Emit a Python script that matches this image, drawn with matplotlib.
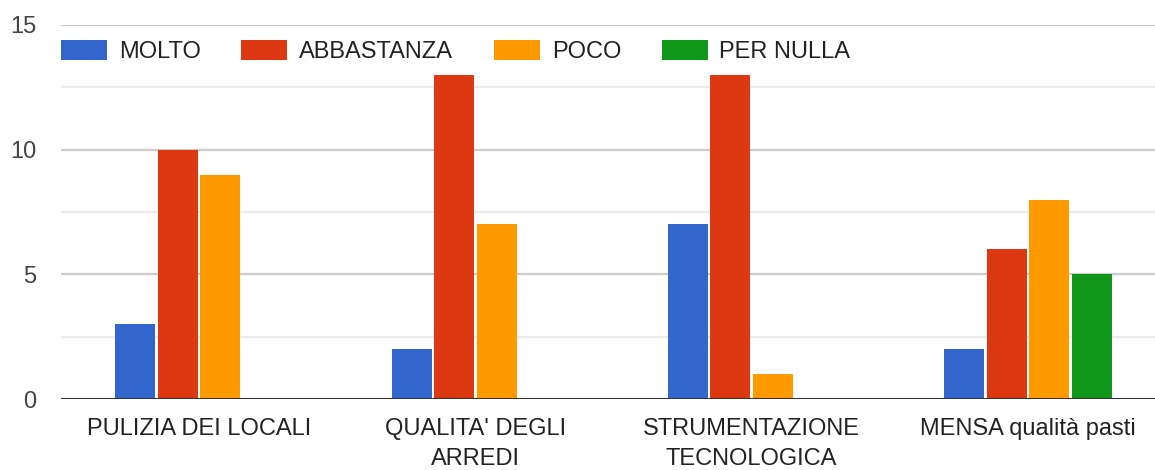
import matplotlib.pyplot as plt
import numpy as np

categorie = ["PULIZIA DEI LOCALI", "QUALITA' DEGLI\nARREDI", "STRUMENTAZIONE\nTECNOLOGICA", "MENSA qualità pasti"]
serie = ["MOLTO", "ABBASTANZA", "POCO", "PER NULLA"]
molto = [3, 2, 7, 2]
abbastanza = [10, 13, 13, 6]
poco = [9, 7, 1, 8]
per_nulla = [0, 0, 0, 5]
valori = [molto, abbastanza, poco, per_nulla]
colori = ['#3366cc', '#dc3912', '#ff9900', '#109618']

plt.rcParams['font.family'] = ['Liberation Sans', 'DejaVu Sans']

fig = plt.figure(figsize=(11.55, 4.70), dpi=100)
ax = fig.add_axes([61/1155, 71/470, 1 - 61/1155, 374/470])

x = np.arange(len(categorie))
passo = 0.154
larg = 0.145
for i, (nome, v, c) in enumerate(zip(serie, valori, colori)):
    ax.bar(x + (i - 1.5) * passo, v, larg, color=c, label=nome, zorder=3)

ax.set_ylim(0, 15)
ax.set_xlim(-0.5, 3.46)
ax.set_yticks([0, 5, 10, 15])
ax.set_yticks([2.5, 7.5, 12.5], minor=True)
ax.grid(axis='y', which='major', color='#cccccc', linewidth=1.6, zorder=0)
ax.grid(axis='y', which='minor', color='#ebebeb', linewidth=1.6, zorder=0)
ax.axhline(0, color='#333333', linewidth=2.2, zorder=4)
for s in ax.spines.values():
    s.set_visible(False)
ax.tick_params(axis='y', which='both', length=0, pad=18, labelsize=17, labelcolor='#444444')
ax.tick_params(axis='x', length=0, pad=14, labelsize=17, labelcolor='#222222')
ax.set_xticks(x)
ax.set_xticklabels(categorie, linespacing=1.45)

ax.legend(loc='upper left', bbox_to_anchor=(0.0, 0.96), ncol=4, frameon=False,
          fontsize=17, handlelength=1.95, handleheight=0.95, handletextpad=0.5,
          columnspacing=1.72, borderaxespad=0, borderpad=0, labelcolor='#222222')

fig.savefig('out.png', dpi=100)
